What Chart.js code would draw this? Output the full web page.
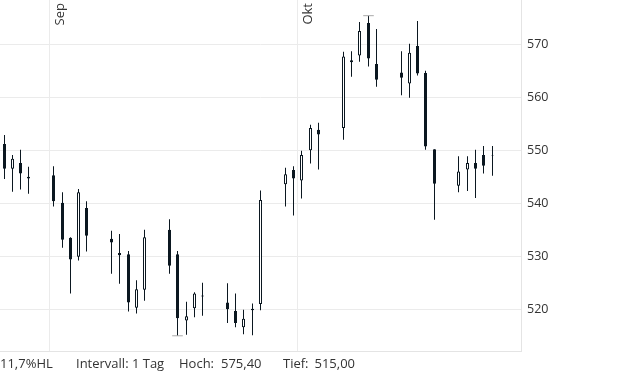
<!DOCTYPE html>
<html><head><meta charset="utf-8">
<script src="https://cdn.jsdelivr.net/npm/chart.js@4.4.1/dist/chart.umd.min.js"></script>
<style>html,body{margin:0;padding:0;background:#fff;overflow:hidden}#wrap{width:620px;height:372px;position:relative}</style>
</head><body><div id="wrap"><canvas id="c" width="620" height="372"></canvas></div>
<script>
// ---- data ----
const axisStart = '2025-08-26';
const axisEnd = '2025-10-27';
const dates = ['2025-08-26','2025-08-27','2025-08-28','2025-08-29',
  '2025-09-01','2025-09-02','2025-09-03','2025-09-04','2025-09-05',
  '2025-09-08','2025-09-09','2025-09-10','2025-09-11','2025-09-12',
  '2025-09-15','2025-09-16','2025-09-17','2025-09-18','2025-09-19',
  '2025-09-22','2025-09-23','2025-09-24','2025-09-25','2025-09-26',
  '2025-09-29','2025-09-30','2025-10-01','2025-10-02','2025-10-03',
  '2025-10-06','2025-10-07','2025-10-08','2025-10-09','2025-10-10',
  '2025-10-13','2025-10-14','2025-10-15','2025-10-16','2025-10-17',
  '2025-10-20','2025-10-21','2025-10-22','2025-10-23','2025-10-24'];
const opens  = [551.2,546.5,547.6,545.0, 545.3,540.1,533.5,529.9,539.1, 533.3,530.6,530.4,520.3,523.7, 535.0,530.4,517.9,520.2,522.4, 521.3,519.7,516.6,520.1,521.0, 543.6,546.3,544.3,550.0,553.9, 554.2,567.0,567.9,574.0,566.3, 564.7,562.6,569.7,564.6,550.2, 543.3,546.4,547.6,549.1,549.0];
const highs  = [552.9,549.1,550.1,546.9, 547.0,542.1,533.6,542.7,540.4, 534.8,534.2,531.0,525.5,535.0, 537.0,531.0,521.4,523.2,525.0, 524.9,523.0,519.9,521.1,542.4, 546.7,547.0,549.9,554.8,555.2, 568.6,568.7,574.2,575.4,572.9, 568.7,570.1,574.4,565.0,550.2, 548.9,548.9,550.1,550.8,550.8];
const lows   = [544.6,542.2,542.6,541.8, 539.4,531.6,523.0,529.2,530.9, 526.7,524.8,519.6,519.2,521.6, 526.7,515.0,515.2,518.5,518.8, 517.4,516.6,515.3,515.1,519.8, 539.4,537.7,540.9,547.5,546.4, 552.0,563.9,566.7,565.8,562.0, 560.4,559.9,564.1,550.1,536.9, 542.1,542.3,541.0,545.6,545.2];
const closes = [546.5,548.4,545.6,544.7, 540.4,533.1,529.4,542.1,533.9, 532.6,530.2,521.3,523.8,533.6, 528.2,518.3,518.7,523.0,522.6, 520.0,517.4,518.2,519.8,540.6, 545.5,544.7,549.1,554.2,553.0, 567.7,566.6,572.5,567.3,563.3, 563.7,568.4,564.5,550.7,543.7, 546.0,547.6,546.5,547.1,549.1];
const yTicks = [520,530,540,550,560,570];
const monthMarks = [{date:'2025-09-01', text:'Sep'}, {date:'2025-10-01', text:'Okt'}];
const intervalText = 'Intervall: 1 Tag';

// ---- build calendar axis ----
const calendar = [];
for (let t = Date.parse(axisStart + 'T00:00:00Z'); t <= Date.parse(axisEnd + 'T00:00:00Z'); t += 86400000) {
  calendar.push(new Date(t).toISOString().slice(0, 10));
}
const rec = d => dates.indexOf(d);
const wickData = calendar.map(d => { const i = rec(d); return i < 0 ? null : [lows[i], highs[i]]; });
const bodyData = calendar.map(d => { const i = rec(d); return i < 0 ? null : [opens[i], closes[i]]; });
const bullish = calendar.map(d => { const i = rec(d); return i >= 0 && closes[i] >= opens[i]; });

const maxHigh = Math.max(...highs), minLow = Math.min(...lows);
const hiDate = dates[highs.indexOf(maxHigh)], loDate = dates[lows.indexOf(minLow)];
const markerData = calendar.map(d => d === hiDate ? maxHigh : (d === loDate ? minLow : null));
const fmt = v => v.toFixed(2).replace('.', ',');
const rangePct = ((maxHigh - minLow) / minLow * 100).toFixed(1).replace('.', ',') + '%HL';
const monthIdx = monthMarks.map(m => calendar.indexOf(m.date));

const DARK = '#0b1720';
const GRID = '#ebebeb';

// snap bar centres to pixel centres for crisp 1px / 3px candles
const crisp = {
  id: 'crisp',
  beforeDatasetsDraw(chart) {
    chart.data.datasets.forEach((ds, di) => {
      const meta = chart.getDatasetMeta(di);
      meta.data.forEach(el => { if (el && isFinite(el.x)) el.x = Math.floor(el.x) + 0.5; });
    });
  }
};

const overlay = {
  id: 'overlay',
  afterDraw(chart) {
    const {ctx, scales: {x}} = chart;
    const step = x.getPixelForValue(1) - x.getPixelForValue(0);
    ctx.save();
    ctx.fillStyle = '#333';
    ctx.font = '13px "Open Sans"';
    monthMarks.forEach(m => {
      const bx = x.getPixelForValue(calendar.indexOf(m.date)) - step / 2;
      ctx.save();
      ctx.translate(bx + 14, 3);
      ctx.rotate(-Math.PI / 2);
      ctx.textAlign = 'right';
      ctx.textBaseline = 'alphabetic';
      ctx.fillText(m.text, 0, 0);
      ctx.restore();
    });
    ctx.textAlign = 'left';
    ctx.textBaseline = 'alphabetic';
    const by = 367.5;
    ctx.fillText(rangePct, 0, by);
    ctx.fillText(intervalText, 76, by);
    ctx.fillText('Hoch:', 179, by);
    ctx.fillText(fmt(maxHigh), 221, by);
    ctx.fillText('Tief:', 283, by);
    ctx.fillText(fmt(minLow), 314.5, by);
    ctx.restore();
  }
};

new Chart(document.getElementById('c'), {
  type: 'bar',
  data: {
    labels: calendar,
    datasets: [
      { type: 'line', data: markerData, showLine: false, pointStyle: 'line', pointRadius: 5.3,
        borderColor: '#aaaaaa', backgroundColor: '#aaaaaa', pointBorderWidth: 1, order: 0 },
      { data: bodyData, barThickness: 3, grouped: false, order: 1, inflateAmount: 0,
        borderSkipped: false, borderWidth: 1, borderColor: DARK,
        backgroundColor: ctx => bullish[ctx.dataIndex] ? '#ffffff' : DARK },
      { data: wickData, barThickness: 1, grouped: false, order: 2, inflateAmount: 0,
        borderWidth: 0, backgroundColor: DARK }
    ]
  },
  options: {
    responsive: false,
    devicePixelRatio: 1,
    animation: false,
    events: [],
    layout: { padding: 0, autoPadding: false },
    plugins: { legend: { display: false }, tooltip: { enabled: false } },
    scales: {
      x: {
        type: 'category', offset: true,
        ticks: { display: false },
        grid: { offset: true, drawTicks: false,
          color: ctx => monthIdx.includes(ctx.index) ? GRID : 'rgba(0,0,0,0)' },
        border: { display: true, color: '#e4e4e4' },
        afterFit: s => { s.height = 21; s.paddingLeft = 0; s.paddingRight = 0; }
      },
      y: {
        position: 'right', min: 512.13, max: 578.36,
        afterBuildTicks: s => { s.ticks = yTicks.map(v => ({ value: v })); },
        ticks: { color: '#333', padding: 6, font: { family: '"Open Sans"', size: 12.5 } },
        grid: { color: GRID, drawTicks: false },
        border: { display: true, color: '#e4e4e4' },
        afterFit: s => { s.width = 99; s.paddingTop = 0; s.paddingBottom = 0; }
      }
    }
  },
  plugins: [crisp, overlay]
});
</script>
</body></html>
